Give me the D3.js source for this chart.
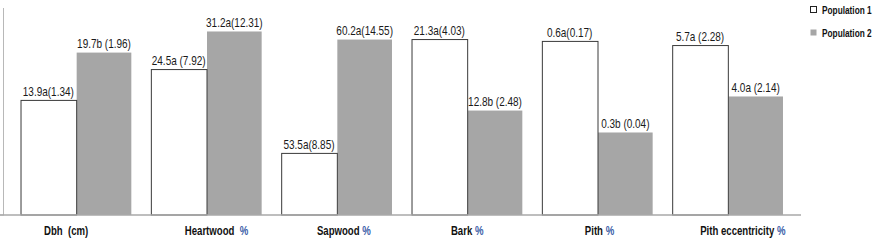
<!DOCTYPE html>
<html><head><meta charset="utf-8">
<script src="https://cdn.jsdelivr.net/npm/d3@7"></script>
<style>
html,body{margin:0;padding:0;background:#fff;}
svg{display:block;}
text{font-family:"Liberation Sans",Arial,sans-serif;}
</style></head>
<body>
<svg id="chart" width="877" height="240"></svg>
<script>
// ---- data (bar heights, in plot units 0-100) ----
const categories = ["Dbh  (cm)", "Heartwood  ", "Sapwood ", "Bark ", "Pith ", "Pith eccentricity "];
const unitSuffix = ["", "%", "%", "%", "%", "%"];
const series = ["Population 1", "Population 2"];
const pop1Values = [55.6, 70.5, 30.0, 85.0, 84.1, 82.1];
const pop2Values = [78.7, 88.9, 85.0, 50.7, 40.1, 57.5];
const pop1Labels = ["13.9a(1.34)", "24.5a (7.92)", "53.5a(8.85)", "21.3a(4.03)", "0.6a(0.17)", "5.7a (2.28)"];
const pop2Labels = ["19.7b (1.96)", "31.2a(12.31)", "60.2a(14.55)", "12.8b (2.48)", "0.3b (0.04)", "4.0a (2.14)"];
const labelShift = [-10, 10, 7, 0, 2, 15];

const NARROW = 0.8;
const svg = d3.select("#chart");
const baseY = 215, topY = 8;

const x = d3.scaleBand().domain(categories).range([11, 793]).paddingInner(0.146).paddingOuter(0.073);
const x1 = d3.scaleBand().domain(series).range([0, x.bandwidth()]);
const y = d3.scaleLinear().domain([0, 100]).range([baseY, baseY - 207]);

function ntext(parent, tx, ty, sx) {
  return parent.append("text")
    .attr("transform", `translate(${tx},${ty}) scale(${sx || NARROW},1)`)
    .attr("x", 0).attr("y", 0).style("white-space", "pre");
}

// axis line left
svg.append("line").attr("x1", 3.5).attr("x2", 3.5).attr("y1", topY).attr("y2", baseY)
  .attr("stroke", "#b8b8b8").attr("stroke-width", 1);
svg.append("line").attr("x1", 0).attr("x2", 4).attr("y1", baseY).attr("y2", baseY)
  .attr("stroke", "#b8b8b8").attr("stroke-width", 1);

const data = categories.map((c, i) => ({c, i, vals: [pop1Values[i], pop2Values[i]], labs: [pop1Labels[i], pop2Labels[i]]}));

const g = svg.append("g");
data.forEach(d => {
  [1, 0].forEach(k => {
    const bx = x(d.c) + x1(series[k]);
    g.append("rect")
      .attr("x", bx + 0.5).attr("y", y(d.vals[k]) + 0.5)
      .attr("width", x1.bandwidth() - (k === 0 ? 0 : 1)).attr("height", baseY - y(d.vals[k]) - 0.5)
      .attr("fill", k === 0 ? "#ffffff" : "#a6a6a6")
      .attr("stroke", k === 0 ? "#3a3a3a" : "none").attr("stroke-width", 1);
    ntext(g, bx + x1.bandwidth() / 2, y(d.vals[k]) - 4)
      .attr("text-anchor", "middle").attr("font-size", 12.5).attr("fill", "#1a1a1a")
      .text(d.labs[k]);
  });
});

// baseline
svg.append("line").attr("x1", 0).attr("x2", 801).attr("y1", baseY).attr("y2", baseY)
  .attr("stroke", "#a8a8a8").attr("stroke-width", 1.5);

// category labels
data.forEach(d => {
  const t = ntext(svg, x(d.c) + x.bandwidth() / 2 + labelShift[d.i], 235)
    .attr("text-anchor", "middle").attr("font-size", 12).attr("font-weight", "bold")
    .attr("fill", "#111");
  t.append("tspan").text(d.c);
  if (unitSuffix[d.i]) t.append("tspan").attr("fill", "#3b5ea8").text(unitSuffix[d.i]);
});

// legend
const legend = svg.append("g");
series.forEach((s, k) => {
  const ly = [10, 33][k];
  legend.append("rect").attr("x", 810.5).attr("y", ly - 3.5).attr("width", 6).attr("height", 6)
    .attr("fill", k === 0 ? "#fff" : "#a6a6a6").attr("stroke", k === 0 ? "#222" : "none");
  ntext(legend, 822, ly + 4, 0.72).attr("font-size", 11.5).attr("font-weight", "bold")
    .attr("fill", "#111").text(s);
});
</script>
</body></html>
